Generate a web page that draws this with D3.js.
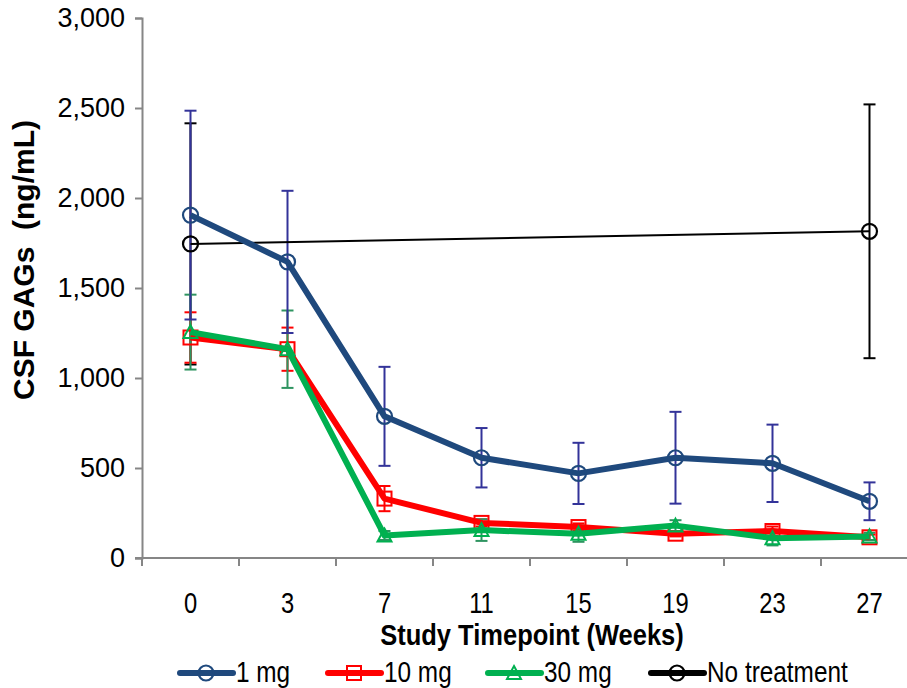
<!DOCTYPE html>
<html>
<head>
<meta charset="utf-8">
<script src="https://cdn.jsdelivr.net/npm/d3@7"></script>
<style>
  body { margin: 0; background: #fff; }
  .arial { font-family: "Liberation Sans", Arial, sans-serif; }
</style>
</head>
<body>
<div id="chart"></div>
<script>
// chart data
//=================================
var weeks = ["0", "3", "7", "11", "15", "19", "23", "27"];

var mg1 = [1905, 1645, 787, 557, 470, 557, 526, 315];
var mg1Err = [580, 395, 275, 165, 170, 255, 215, 105];

var mg10 = [1225, 1160, 330, 195, 172, 135, 150, 115];
var mg10Err = [140, 120, 70, 20, 20, 15, 25, 15];

var mg30 = [1255, 1160, 125, 155, 135, 180, 110, 120];
var mg30Err = [208, 215, 25, 60, 45, 30, 40, 20];

var noTxWeeks = ["0", "27"];
var noTx = [1745, 1815];
var noTxErr = [670, 705];

var yTicks = [0, 500, 1000, 1500, 2000, 2500, 3000];

var series = [
  { name: "No treatment", weeks: noTxWeeks, values: noTx, err: noTxErr,
    color: "#000000", errColor: "#000000", width: 2, marker: "circle" },
  { name: "10 mg", weeks: weeks, values: mg10, err: mg10Err,
    color: "#FF0000", errColor: "#FF0000", width: 6, marker: "square" },
  { name: "30 mg", weeks: weeks, values: mg30, err: mg30Err,
    color: "#00B050", errColor: "#2E9460", width: 6, marker: "triangle" },
  { name: "1 mg", weeks: weeks, values: mg1, err: mg1Err,
    color: "#1F497D", errColor: "#333399", width: 6, marker: "circle" }
];
var legendOrder = ["1 mg", "10 mg", "30 mg", "No treatment"];

// set up the chart
//=================================
var svgWidth = 907;
var svgHeight = 688;

var margin = { top: 18, left: 142, bottom: 130 };
var height = svgHeight - margin.top - margin.bottom; // 540

// the narrow font is not installed, squeeze Liberation Sans instead
var squeeze = 0.82;

var svg = d3.select("#chart")
  .append("svg")
  .attr("width", svgWidth)
  .attr("height", svgHeight);

// x is a category axis, the picture crops its right end
var x = d3.scaleBand()
  .domain(weeks)
  .range([margin.left, margin.left + 8 * 97]);

var y = d3.scaleLinear()
  .domain([0, 3000])
  .range([margin.top + height, margin.top]);

function cx(w) { return x(w) + x.bandwidth() / 2; }

var axisColor = "#868686";

// y axis
var yAxis = svg.append("g")
  .attr("transform", `translate(${margin.left},0)`)
  .call(d3.axisLeft(y).tickValues(yTicks).tickSize(7).tickPadding(10)
    .tickFormat(d3.format(",")));
yAxis.select(".domain").attr("stroke", axisColor).attr("stroke-width", 2);
yAxis.selectAll(".tick line").attr("stroke", axisColor).attr("stroke-width", 2);
yAxis.selectAll(".tick text")
  .attr("class", "arial")
  .attr("font-size", "27px")
  .attr("fill", "#000");

// x axis
var xAxis = svg.append("g")
  .attr("transform", `translate(0,${y(0)})`)
  .call(d3.axisBottom(x).tickSize(0).tickPadding(34));
xAxis.select(".domain").remove();
xAxis.append("line")
  .attr("x1", margin.left - 7).attr("x2", svgWidth + 20)
  .attr("stroke", axisColor).attr("stroke-width", 2);
xAxis.selectAll(".bound")
  .data(weeks)
  .enter()
  .append("line")
  .attr("x1", d => x(d)).attr("x2", d => x(d))
  .attr("y1", 0).attr("y2", 8)
  .attr("stroke", axisColor).attr("stroke-width", 2);
xAxis.selectAll(".tick text")
  .attr("class", "arial")
  .attr("font-size", "29px")
  .attr("transform", `scale(${squeeze},1)`)
  .attr("fill", "#000");

// axis titles
svg.append("text")
  .attr("class", "arial")
  .attr("transform", `translate(34,${y(1500) - 28}) rotate(-90)`)
  .attr("text-anchor", "middle")
  .attr("font-size", "30px")
  .attr("font-weight", "bold")
  .attr("xml:space", "preserve")
  .text("CSF GAGs  (ng/mL)");

svg.append("text")
  .attr("class", "arial")
  .attr("transform", `translate(532,645) scale(0.85,1)`)
  .attr("text-anchor", "middle")
  .attr("font-size", "30px")
  .attr("font-weight", "bold")
  .text("Study Timepoint (Weeks)");

// markers
function drawMarker(g, type, px, py, color) {
  if (type === "circle") {
    g.append("circle")
      .attr("cx", px).attr("cy", py).attr("r", 7.5)
      .attr("fill", "none").attr("stroke", color).attr("stroke-width", 2.2);
  } else if (type === "square") {
    g.append("rect")
      .attr("x", px - 7).attr("y", py - 7)
      .attr("width", 14).attr("height", 14)
      .attr("fill", "none").attr("stroke", color).attr("stroke-width", 2);
  } else {
    g.append("path")
      .attr("d", `M${px},${py - 7}L${px + 7},${py + 6}L${px - 7},${py + 6}Z`)
      .attr("fill", "none").attr("stroke", color).attr("stroke-width", 2);
  }
}

var line = d3.line()
  .x(d => cx(d.w))
  .y(d => y(d.v));

// error bars
series.forEach(function(s) {
  var pts = s.weeks.map((w, i) => ({ w: w, v: s.values[i], e: s.err[i] }));
  var g = svg.append("g").attr("stroke", s.errColor).attr("stroke-width", 2);
  pts.forEach(function(p) {
    var px = cx(p.w);
    g.append("line").attr("x1", px).attr("x2", px)
      .attr("y1", y(p.v + p.e)).attr("y2", y(p.v - p.e));
    [p.v + p.e, p.v - p.e].forEach(function(v) {
      g.append("line").attr("x1", px - 6).attr("x2", px + 6)
        .attr("y1", y(v)).attr("y2", y(v));
    });
  });
});

// lines and markers
series.forEach(function(s) {
  var pts = s.weeks.map((w, i) => ({ w: w, v: s.values[i] }));
  svg.append("path")
    .datum(pts)
    .attr("d", line)
    .attr("fill", "none")
    .attr("stroke", s.color)
    .attr("stroke-width", s.width)
    .attr("stroke-linejoin", "round");
  var g = svg.append("g");
  pts.forEach(p => drawMarker(g, s.marker, cx(p.w), y(p.v), s.color));
});

// legend
var legendX = [180, 328, 488, 651];
var legend = svg.append("g");
legendOrder.forEach(function(name, i) {
  var s = series.find(d => d.name === name);
  var lx = legendX[i];
  var ly = 673;
  legend.append("line")
    .attr("x1", lx).attr("x2", lx + 53)
    .attr("y1", ly).attr("y2", ly)
    .attr("stroke", s.color).attr("stroke-width", 6)
    .attr("stroke-linecap", "round");
  drawMarker(legend, s.marker, lx + 26, ly, s.color);
  legend.append("text")
    .attr("class", "arial")
    .attr("transform", `translate(${lx + 56},${ly + 9}) scale(0.84,1)`)
    .attr("font-size", "29px")
    .text(name);
});
</script>
</body>
</html>
